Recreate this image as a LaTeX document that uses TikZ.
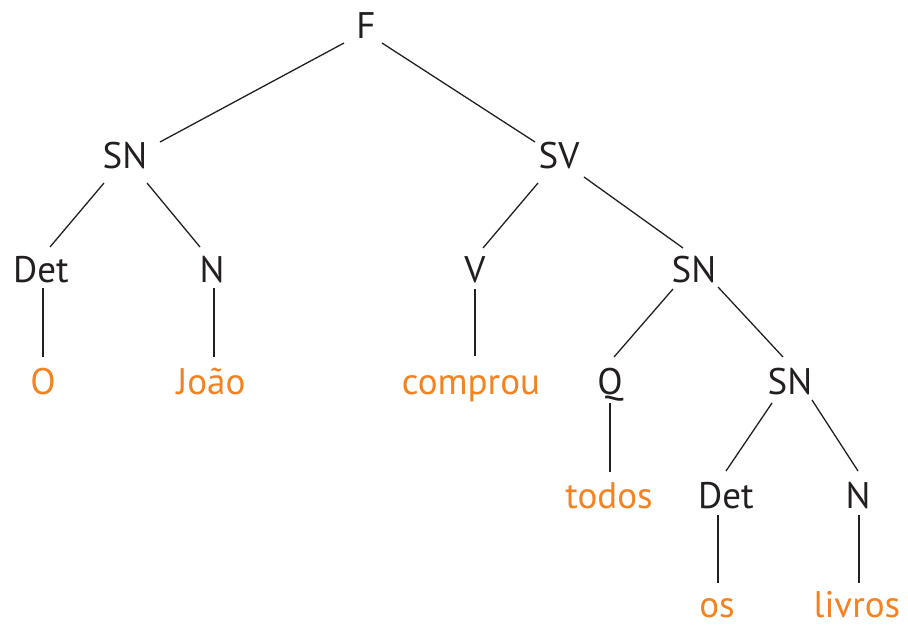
\documentclass[tikz,border=0pt]{standalone}
\usepackage{fontspec}
\setmainfont{PT Sans}
\definecolor{ink}{HTML}{231F20}
\definecolor{leaf}{HTML}{F58220}
\begin{document}
\begin{tikzpicture}[x=1pt,y=-1pt,
  cat/.style={anchor=base,inner sep=0pt,text=ink,font=\fontsize{37}{44}\selectfont},
  word/.style={cat,text=leaf},
  branch/.style={draw=ink,line width=1.3pt}]
\useasboundingbox (0,0) rectangle (908,626);

% categories
\node[cat] (F)    at (366,39)  {F};
\node[cat] (SNa)  at (125,168) {SN};
\node[cat] (SV)   at (559,168) {SV};
\node[cat] (DetA) at (41,282)  {Det};
\node[cat] (NA)   at (212,282) {N};
\node[cat] (V)    at (475,282) {V};
\node[cat] (SNb)  at (694,282) {SN};
\node[cat] (Q)    at (610,394) {Q};
\node[cat] (SNc)  at (790,394) {SN};
\node[cat] (DetB) at (726,508) {Det};
\node[cat] (NB)   at (858,508) {N};

% words
\node[word] (o)       at (43,394)  {O};
\node[word] (joao)    at (211,394) {João};
\node[word] (comprou) at (471,394) {comprou};
\node[word] (todos)   at (609,508) {todos};
\node[word] (os)      at (717,617) {os};
\node[word] (livros)  at (857,617) {livros};

% branches
\path[branch] ([shift={(-22,4)}]F.base)   -- ([shift={(35,-26)}]SNa.base);
\path[branch] ([shift={(16,4)}]F.base)    -- ([shift={(-24,-26)}]SV.base);
\path[branch] ([shift={(-21,15)}]SNa.base) -- ([shift={(9,-35)}]DetA.base);
\path[branch] ([shift={(22,15)}]SNa.base)  -- ([shift={(-12,-35)}]NA.base);
\path[branch] ([shift={(-21,15)}]SV.base)  -- ([shift={(8,-34)}]V.base);
\path[branch] ([shift={(25,9)}]SV.base)    -- ([shift={(-11,-34)}]SNb.base);
\path[branch] ([shift={(-21,7)}]SNb.base)  -- ([shift={(4,-37)}]Q.base);
\path[branch] ([shift={(24,5)}]SNb.base)   -- ([shift={(-7,-37)}]SNc.base);
\path[branch] ([shift={(-18,9)}]SNc.base)  -- ([shift={(0,-37)}]DetB.base);
\path[branch] ([shift={(22,6)}]SNc.base)   -- ([shift={(0,-37)}]NB.base);

% lexical stems
\path[branch] ([shift={(2,6)}]DetA.base) -- ([shift={(0,-37)}]o.base);
\path[branch] ([shift={(2,6)}]NA.base)   -- ([shift={(3,-37)}]joao.base);
\path[branch] ([shift={(0,7)}]V.base)    -- ([shift={(4,-38)}]comprou.base);
\path[branch] ([shift={(0,9)}]Q.base)    -- ([shift={(1,-36)}]todos.base);
\path[branch] ([shift={(-8,7)}]DetB.base) -- ([shift={(1,-34)}]os.base);
\path[branch] ([shift={(1,7)}]NB.base)   -- ([shift={(2,-34)}]livros.base);
\end{tikzpicture}
\end{document}
